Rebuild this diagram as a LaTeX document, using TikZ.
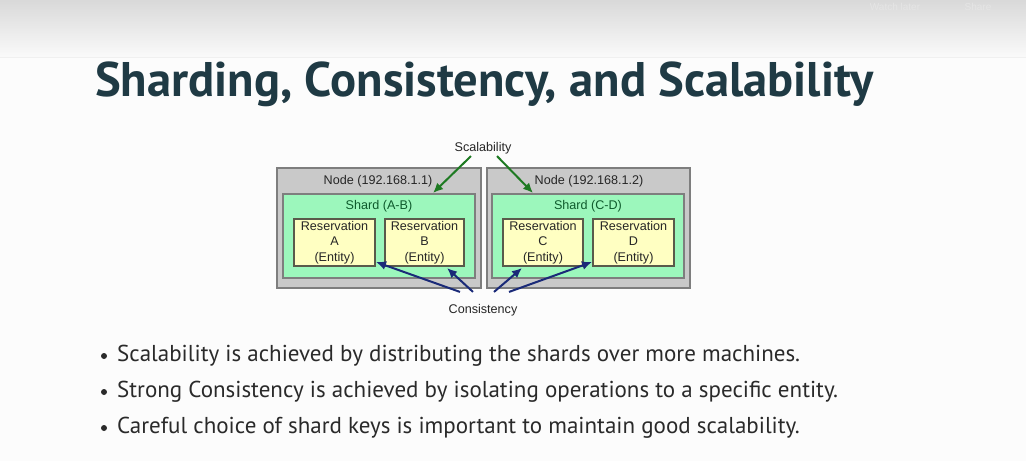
\documentclass[tikz,border=0pt]{standalone}
\usepackage{fontspec}
\setmainfont{PT Sans}
\newfontfamily\diagfont{Liberation Sans}
\usetikzlibrary{arrows.meta}
\definecolor{titlecol}{HTML}{1F3A44}
\definecolor{bodycol}{HTML}{2A2A2A}
\definecolor{hostfill}{HTML}{C9C9C9}
\definecolor{hostline}{HTML}{7E7E7E}
\definecolor{shardfill}{HTML}{9CF7BC}
\definecolor{shardtext}{HTML}{0E5A2C}
\definecolor{entfill}{HTML}{FFFFC2}
\definecolor{entline}{HTML}{5A5A4A}
\definecolor{scalecol}{HTML}{1E7A22}
\definecolor{conscol}{HTML}{1A2A78}
\tikzset{
  host/.style={draw=hostline, fill=hostfill, line width=2pt, inner sep=0pt},
  shard/.style={draw=hostline, fill=shardfill, line width=1.6pt, inner sep=0pt},
  entity/.style={draw=entline, fill=entfill, line width=1.2pt, inner sep=0pt,
    align=center, font=\diagfont\fontsize{12.6}{15.5}\selectfont, text=black!85},
  lbl/.style={font=\diagfont\fontsize{12.6}{14}\selectfont, inner sep=0pt},
  scalearrow/.style={draw=scalecol, line width=2pt, -{Latex[length=10pt,width=9pt]}},
  consarrow/.style={draw=conscol, line width=2pt, -{Latex[length=10pt,width=9pt]}},
  bullet/.style={anchor=west, inner sep=0pt, text=bodycol,
    font=\fontsize{23}{27}\selectfont},
  overlay text/.style={anchor=base, text=white!90!black,
    font=\diagfont\fontsize{10}{12}\selectfont},
}
\begin{document}
\begin{tikzpicture}[x=1pt, y=-1pt]
\useasboundingbox (0,0) rectangle (1026,461);
% page background with the shaded header band
\fill[white!99!black] (0,0) rectangle (1026,461);
\shade[top color=black!15, bottom color=black!2] (0,0) rectangle (1026,57);
\draw[black!6, line width=0.6pt] (0,57) -- (1026,57);
\node[overlay text] (watch) at (895,10) {Watch later};
\node[overlay text] (share) at (978,10) {Share};

% title
\node[anchor=west, inner sep=0pt, text=titlecol, font=\bfseries\fontsize{48.6}{54}\selectfont]
  (title) at (95,84) {Sharding, Consistency, and Scalability};

% two hosts
\node[host, minimum width=204pt, minimum height=120pt] (hostL) at (379,228) {};
\node[host, minimum width=203pt, minimum height=120pt] (hostR) at (588.5,228) {};
\node[lbl, text=black!85] (hostLlbl) at (378,181) {Node (192.168.1.1)};
\node[lbl, text=black!85] (hostRlbl) at (589,181) {Node (192.168.1.2)};

% shards
\node[shard, minimum width=192pt, minimum height=84pt] (shardL) at (379,236) {};
\node[shard, minimum width=192pt, minimum height=84pt] (shardR) at (588,236) {};
\node[lbl, text=shardtext] (shardLlbl) at (379,206) {Shard (A-B)};
\node[lbl, text=shardtext] (shardRlbl) at (588,206) {Shard (C-D)};

% entities
\node[entity, minimum width=81pt, minimum height=47pt] (entA) at (334.5,242.5) {Reservation\\A\\(Entity)};
\node[entity, minimum width=79pt, minimum height=47pt] (entB) at (424.5,242.5) {Reservation\\B\\(Entity)};
\node[entity, minimum width=80pt, minimum height=47pt] (entC) at (543,242.5) {Reservation\\C\\(Entity)};
\node[entity, minimum width=81pt, minimum height=47pt] (entD) at (633.5,242.5) {Reservation\\D\\(Entity)};

% labels of the two concerns
\node[lbl, text=black!85] (scal) at (483,148) {Scalability};
\node[lbl, text=black!85] (cons) at (483,310) {Consistency};

% arrow targets on the shards
\coordinate (scalL) at (433,193);
\coordinate (scalR) at (533,193);
\draw[scalearrow] (scal.south) ++(-12,2) coordinate (scalLs) -- (scalL);
\draw[scalearrow] (scal.south) ++(14,2) coordinate (scalRs) -- (scalR);

\coordinate (consA) at (376,262);
\coordinate (consB) at (447,268);
\coordinate (consC) at (522,268);
\coordinate (consD) at (592,262);
\draw[consarrow] (cons.north) ++(-23,-12) coordinate (consAs) -- (consA);
\draw[consarrow] (cons.north) ++(-10,-12) coordinate (consBs) -- (consB);
\draw[consarrow] (cons.north) ++(11,-12) coordinate (consCs) -- (consC);
\draw[consarrow] (cons.north) ++(26,-12) coordinate (consDs) -- (consD);

% bullet list
\foreach \y/\t [count=\i] in {
  356/{Scalability is achieved by distributing the shards over more machines.},
  392/{Strong Consistency is achieved by isolating operations to a specific entity.},
  428/{Careful choice of shard keys is important to maintain good scalability.}} {
  \fill[bodycol] (104,\y) circle (3pt);
  \node[bullet] (item\i) at (117,\y) {\t};
}
\end{tikzpicture}
\end{document}
